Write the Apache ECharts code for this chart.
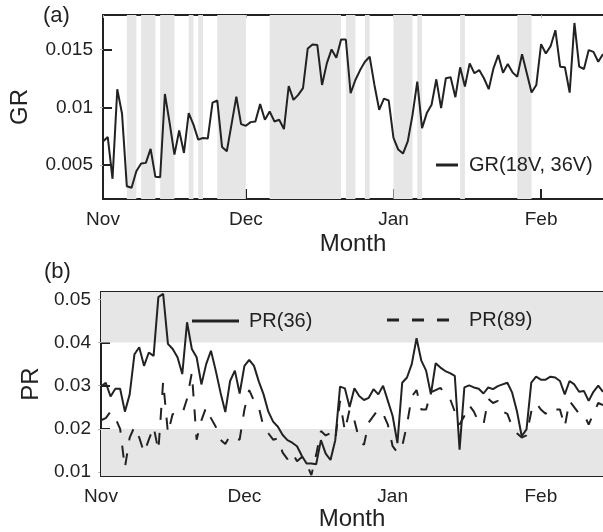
<!DOCTYPE html>
<html>
<head>
<meta charset="utf-8">
<script src="https://cdn.jsdelivr.net/npm/echarts@6/dist/echarts.min.js"></script>
<style>
  html, body { margin: 0; padding: 0; background: #fff; }
  #chart { width: 603px; height: 532px; }
</style>
</head>
<body>
<div id="chart"></div>
<script>
// day index 0 = 1 Nov
const monthTicks = [0, 30, 61, 92];
const monthNames = ['Nov', 'Dec', 'Jan', 'Feb'];

const gr = [
  0.00705, 0.00743, 0.00381, 0.01157, 0.00944, 0.00317, 0.00303, 0.00447, 0.00513, 0.00519,
  0.0064, 0.00398, 0.00395, 0.01116, 0.00864, 0.0059, 0.008, 0.00605, 0.0095, 0.0085,
  0.0072, 0.00735, 0.0073, 0.01041, 0.01059, 0.00657, 0.0062, 0.00855, 0.01093, 0.00855,
  0.0084, 0.00872, 0.00878, 0.01028, 0.00892, 0.00964, 0.00878, 0.00892, 0.00812, 0.01185,
  0.01065, 0.01108, 0.01166, 0.0151, 0.01545, 0.01541, 0.01194, 0.01381, 0.01502, 0.01429,
  0.01588, 0.01588, 0.01122, 0.01237, 0.01323, 0.01395, 0.01438, 0.01194, 0.00979, 0.01076,
  0.01059, 0.00735, 0.00634, 0.006, 0.00705, 0.00935, 0.01222, 0.0082, 0.0095, 0.01022,
  0.01243, 0.00993, 0.01252, 0.0126, 0.01088, 0.01347, 0.0118, 0.01381, 0.01295, 0.01323,
  0.01252, 0.01157, 0.01338, 0.01453, 0.013, 0.01375, 0.01303, 0.01266, 0.01461, 0.01295,
  0.01128, 0.01194, 0.01547, 0.01467, 0.0153, 0.01668, 0.01352, 0.01347, 0.01128, 0.01731,
  0.01352, 0.01332, 0.01496, 0.01481, 0.01395, 0.01461
];

const pr36 = [
  0.0298, 0.0307, 0.0275, 0.0293, 0.0293, 0.024, 0.028, 0.0373, 0.0389, 0.0346,
  0.0377, 0.0369, 0.0505, 0.0513, 0.0397, 0.0385, 0.0366, 0.0327, 0.0447, 0.0385,
  0.0366, 0.0303, 0.035, 0.0381, 0.0335, 0.0284, 0.0239, 0.0311, 0.0335, 0.0282,
  0.0346, 0.036, 0.0346, 0.031, 0.028, 0.024, 0.0217, 0.0205, 0.0186, 0.0174,
  0.0168, 0.016, 0.0138, 0.012, 0.012, 0.0118, 0.0174, 0.0143, 0.0128, 0.0174,
  0.0298, 0.0294, 0.0251, 0.0294, 0.0276, 0.0267, 0.0272, 0.0292, 0.028, 0.03,
  0.0265, 0.023, 0.0167, 0.0307, 0.0319, 0.035, 0.041, 0.0358, 0.0335, 0.028,
  0.0352, 0.0342, 0.0334, 0.0329, 0.0323, 0.0152, 0.0296, 0.0301, 0.0296, 0.0293,
  0.0282, 0.0296, 0.0292, 0.0299, 0.0303, 0.0307, 0.0284, 0.0241, 0.0183, 0.0199,
  0.0307, 0.0321, 0.0314, 0.0314, 0.0321, 0.0319, 0.0311, 0.028, 0.0311, 0.0303,
  0.0286, 0.0288, 0.0265, 0.0286, 0.03, 0.0286
];

const pr89 = [
  0.022, 0.0225, 0.024, 0.0225, 0.020, 0.011, 0.018, 0.0205, 0.018, 0.0145,
  0.0175, 0.0205, 0.015, 0.031, 0.019, 0.0235, 0.023, 0.0235, 0.027, 0.033,
  0.0175, 0.022, 0.025, 0.0225, 0.0205, 0.0175, 0.0165, 0.0185, 0.0178, 0.0175,
  0.0245, 0.029, 0.0265, 0.025, 0.0205, 0.019, 0.0175, 0.0178, 0.0145, 0.013,
  0.0145, 0.0125, 0.0135, 0.012, 0.0093, 0.014, 0.0195, 0.0185, 0.019, 0.0175,
  0.0265, 0.0195, 0.0245, 0.022, 0.0175, 0.0163, 0.0215, 0.023, 0.0245, 0.0235,
  0.021, 0.016, 0.0145, 0.016, 0.021, 0.0275, 0.029, 0.0245, 0.0245, 0.0285,
  0.029, 0.0295, 0.028, 0.027, 0.024, 0.021, 0.023, 0.0255, 0.024, 0.0215,
  0.021, 0.027, 0.026, 0.0265, 0.024, 0.0235, 0.0205, 0.019, 0.018, 0.0185,
  0.024, 0.026, 0.0245, 0.0235, 0.025, 0.0245, 0.0245, 0.0205, 0.0265, 0.025,
  0.0235, 0.0235, 0.021, 0.0235, 0.026, 0.0255
];

// shaded day ranges in panel (a)
const grBands = [[5, 7], [8, 11], [12, 15], [18, 19], [20, 21], [24, 30], [35, 50],
  [51, 53], [55, 56], [61, 65], [66, 67], [75, 76], [87, 90]];

// axis ranges and shaded PR ranges in panel (b)
const grRange = [0.00206, 0.018];
const prRange = [0.0091, 0.0517];
const prBands = [[0.0091, 0.02], [0.04, 0.0517]];

const grTicks = [0.005, 0.01, 0.015];
const prTicks = [0.01, 0.02, 0.03, 0.04, 0.05];

const FONT = '"Liberation Sans", Arial, sans-serif';
const INK = '#222';
const SHADE = '#e6e6e6';

// legend glyph for the dashed series: three short bars
const DASH_ICON = 'path://M0,0h12v3h-12z M25,0h12v3h-12z M50,0h12v3h-12z';

function toXY(arr) {
  return arr.map((v, i) => [i, v]);
}

function bottomAxis(gridIndex) {
  return {
    type: 'value', gridIndex: gridIndex, min: 0, max: 105,
    name: 'Month', nameLocation: 'middle', nameGap: gridIndex === 0 ? 33 : 31,
    nameTextStyle: { fontSize: 24, color: INK, fontFamily: FONT },
    axisLine: { lineStyle: { color: INK, width: 2 } },
    axisTick: { inside: true, length: 10, customValues: monthTicks, lineStyle: { color: INK, width: 2 } },
    axisLabel: {
      customValues: monthTicks, margin: 11, fontSize: 19, color: INK, fontFamily: FONT,
      formatter: v => monthNames[monthTicks.indexOf(v)]
    },
    splitLine: { show: false }
  };
}

function topAxis(gridIndex) {
  return {
    type: 'value', gridIndex: gridIndex, position: 'top', min: 0, max: 105,
    axisLine: { lineStyle: { color: INK, width: 2 } },
    axisTick: { inside: true, length: 3, customValues: monthTicks, lineStyle: { color: '#bbb' } },
    axisLabel: { show: false },
    splitLine: { show: false }
  };
}

function leftAxis(gridIndex, range, ticks, name, gap) {
  return {
    type: 'value', gridIndex: gridIndex, min: range[0], max: range[1],
    name: name, nameLocation: 'middle', nameGap: gap,
    nameTextStyle: { fontSize: 24, color: INK, fontFamily: FONT },
    axisLine: { show: true, lineStyle: { color: INK, width: 2 } },
    axisTick: { show: true, inside: true, length: 9, customValues: ticks, lineStyle: { color: INK, width: 2 } },
    axisLabel: { customValues: ticks, margin: 10, fontSize: 19, color: INK, fontFamily: FONT },
    splitLine: { show: false }
  };
}

function rightAxis(gridIndex, range, ticks) {
  return {
    type: 'value', gridIndex: gridIndex, position: 'right', min: range[0], max: range[1],
    axisLine: { show: true, lineStyle: { color: INK, width: 2 } },
    axisTick: { show: true, inside: true, length: 3, customValues: ticks, lineStyle: { color: '#bbb' } },
    axisLabel: { show: false },
    splitLine: { show: false }
  };
}

const chart = echarts.init(document.getElementById('chart'), null, { renderer: 'canvas' });

const option = {
  animation: false,
  backgroundColor: '#fff',
  textStyle: { fontFamily: FONT },
  grid: [
    { left: 101, right: 0, top: 15, height: 184 },
    { left: 101, right: 0, top: 292, height: 184 }
  ],
  xAxis: [bottomAxis(0), topAxis(0), bottomAxis(1), topAxis(1)],
  yAxis: [
    leftAxis(0, grRange, grTicks, 'GR', 71),
    rightAxis(0, grRange, grTicks),
    leftAxis(1, prRange, prTicks, 'PR', 57),
    rightAxis(1, prRange, prTicks)
  ],
  legend: [
    {
      data: ['GR(18V, 36V)'], left: 436, top: 155, padding: 0,
      icon: 'rect', itemWidth: 22, itemHeight: 3,
      itemStyle: { color: INK, borderWidth: 0, opacity: 1 },
      textStyle: { fontSize: 20, color: INK, lineHeight: 20, padding: [0, 0, 0, 6] }
    },
    {
      data: ['PR(36)'], left: 192, top: 311, padding: 0,
      icon: 'rect', itemWidth: 47, itemHeight: 3,
      itemStyle: { color: INK, borderWidth: 0, opacity: 1 },
      textStyle: { fontSize: 20, color: INK, lineHeight: 20, padding: [0, 0, 0, 5] }
    },
    {
      data: ['PR(89)'], left: 387, top: 310, padding: 0,
      icon: DASH_ICON, itemWidth: 62, itemHeight: 3,
      itemStyle: { color: INK, borderWidth: 0, opacity: 1 },
      textStyle: { fontSize: 20, color: INK, lineHeight: 20, padding: [0, 0, 0, 15] }
    }
  ],
  graphic: [
    { type: 'text', left: 43, top: 5, style: { text: '(a)', fontSize: 22, fill: INK, fontFamily: FONT } },
    { type: 'text', left: 44, top: 261, style: { text: '(b)', fontSize: 22, fill: INK, fontFamily: FONT } }
  ],
  series: [
    {
      name: 'bandsA', type: 'line', xAxisIndex: 0, yAxisIndex: 0, data: [], z: 1, silent: true,
      markArea: {
        silent: true,
        itemStyle: { color: SHADE },
        data: grBands.map(b => [{ xAxis: b[0] }, { xAxis: b[1] }])
      }
    },
    {
      name: 'GR(18V, 36V)', type: 'line', xAxisIndex: 0, yAxisIndex: 0, z: 3,
      symbol: 'none', data: toXY(gr),
      lineStyle: { color: INK, width: 2 }, itemStyle: { color: INK }
    },
    {
      name: 'bandsB', type: 'line', xAxisIndex: 2, yAxisIndex: 2, data: [], z: 1, silent: true,
      markArea: {
        silent: true,
        itemStyle: { color: SHADE },
        data: prBands.map(b => [{ yAxis: b[0] }, { yAxis: b[1] }])
      }
    },
    {
      name: 'PR(36)', type: 'line', xAxisIndex: 2, yAxisIndex: 2, z: 3,
      symbol: 'none', data: toXY(pr36),
      lineStyle: { color: INK, width: 2 }, itemStyle: { color: INK }
    },
    {
      name: 'PR(89)', type: 'line', xAxisIndex: 2, yAxisIndex: 2, z: 3,
      symbol: 'none', data: toXY(pr89),
      lineStyle: { color: INK, width: 2, type: [12, 13] }, itemStyle: { color: INK }
    }
  ]
};

chart.setOption(option);
</script>
</body>
</html>
